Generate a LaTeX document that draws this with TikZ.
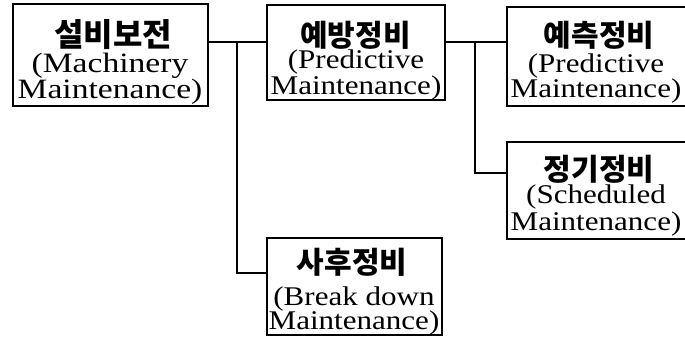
\documentclass[tikz,border=0pt]{standalone}
\usepackage{fontspec}
\setmainfont{Liberation Serif}
\newfontfamily\enA{Liberation Serif}[FakeStretch=1.15]
\newfontfamily\enB{Liberation Serif}[FakeStretch=1.2]
\newfontfamily\kr{Noto Sans CJK KR}
\tikzset{
  box/.style={draw, line width=2.4pt, inner sep=0pt},
  kor/.style={inner sep=0pt, font=\kr\bfseries\fontsize{30}{30}\selectfont},
  korB/.style={inner sep=0pt, font=\kr\bfseries\fontsize{32}{32}\selectfont},
  eng/.style={inner sep=0pt, anchor=base, font=\enA\fontsize{27}{27}\selectfont},
  engB/.style={inner sep=0pt, anchor=base, font=\enB\fontsize{28}{28}\selectfont},
  conn/.style={draw, line width=1.1pt},
}
\begin{document}
\begin{tikzpicture}[x=1pt,y=-1pt]
\clip (0,0) rectangle (685,337);
% boxes
\node[box, minimum width=195pt, minimum height=102pt] (b1) at (110.5,55) {};
\node[box, minimum width=178pt, minimum height=95pt] (b2) at (356,52.5) {};
\node[box, minimum width=193pt, minimum height=99pt] (b3) at (603.5,56.5) {};
\node[box, minimum width=193pt, minimum height=97pt] (b5) at (603.5,190.5) {};
\node[box, minimum width=175pt, minimum height=97pt] (b4) at (354.5,286.5) {};
% box 1
\node[korB] (k1t) at (113,35) {설비보전};
\node[engB] (e1a) at (110,72) {(Machinery};
\node[engB] (e1b) at (110,98) {Maintenance)};
% box 2
\node[kor] (k2t) at (355.5,35) {예방정비};
\node[eng] (e2a) at (356,68) {(Predictive};
\node[eng] (e2b) at (356,94) {Maintenance)};
% box 3
\node[kor] (k3t) at (599,35) {예측정비};
\node[eng] (e3a) at (596,72) {(Predictive};
\node[eng] (e3b) at (596,97) {Maintenance)};
% box 5
\node[kor] (k5t) at (599,169.5) {정기정비};
\node[eng] (e5a) at (596,203) {(Scheduled};
\node[eng] (e5b) at (596,230) {Maintenance)};
% box 4
\node[kor] (k4t) at (352,262.5) {사후정비};
\node[eng] (e4a) at (354,305) {(Break down};
\node[eng] (e4b) at (354,329.5) {Maintenance)};
% junctions
\coordinate (j1) at (237,42);
\coordinate (m1) at (237,273);
\coordinate (j2) at (475,42);
\coordinate (m2) at (475,173);
% connectors
\draw[conn] (j1 -| b1.east) -- (j1 -| b2.west);
\draw[conn] (j1) -- (m1) -- (m1 -| b4.west);
\draw[conn] (j2 -| b2.east) -- (j2 -| b3.west);
\draw[conn] (j2) -- (m2) -- (m2 -| b5.west);
\end{tikzpicture}
\end{document}
